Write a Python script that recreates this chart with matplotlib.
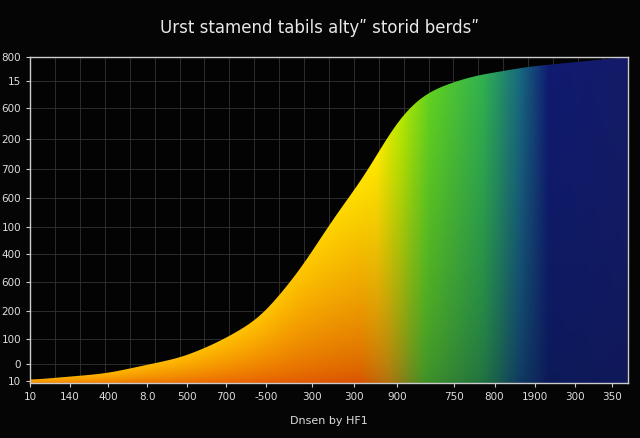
import numpy as np
import matplotlib
matplotlib.use("Agg")
import matplotlib.pyplot as plt
from matplotlib.colors import LinearSegmentedColormap

title = "Urst stamend tabils alty\u02ba storid berds\u02ba"
xlabel = "Dnsen by HF1"
x_tick_pos = [0.0, 0.066, 0.131, 0.196, 0.262, 0.327, 0.395, 0.472, 0.542, 0.614, 0.709, 0.777, 0.844, 0.911, 0.973]
x_tick_labels = ["10", "140", "400", "8.0", "500", "700", "-500", "300", "300", "900", "750", "800", "1900", "300", "350"]
y_tick_pos = [1.0, 0.926, 0.843, 0.748, 0.656, 0.567, 0.478, 0.396, 0.310, 0.221, 0.135, 0.058, 0.006]
y_tick_labels = ["800", "15", "600", "200", "700", "600", "100", "400", "600", "200", "100", "0", "10"]
curve_x = [0.0, 0.128, 0.256, 0.32, 0.385, 0.449, 0.513, 0.558, 0.609, 0.641, 0.673, 0.737, 0.833, 1.0]
curve_y = [0.01, 0.03, 0.08, 0.13, 0.20, 0.34, 0.52, 0.63, 0.79, 0.86, 0.90, 0.94, 0.97, 1.0]

fig = plt.figure(figsize=(6.4, 4.38), dpi=100, facecolor="#050505")
ax = fig.add_axes([0.047, 0.125, 0.934, 0.745])
ax.set_facecolor("#030303")

top_cols = [(0.0, "#ffb000"), (0.45, "#ffc800"), (0.58, "#ffe800"), (0.62, "#b8e800"),
            (0.67, "#60d020"), (0.76, "#30b050"), (0.82, "#186a80"), (0.87, "#101a70"), (1.0, "#141c68")]
bot_cols = [(0.0, "#f08800"), (0.35, "#e86000"), (0.55, "#d85000"), (0.60, "#b07010"),
            (0.66, "#409028"), (0.76, "#207040"), (0.82, "#103a60"), (0.87, "#0c1a58"), (1.0, "#101858")]
ctop = LinearSegmentedColormap.from_list("t", top_cols)
cbot = LinearSegmentedColormap.from_list("b", bot_cols)

nx, ny = 800, 400
fx = np.linspace(0, 1, nx)
fy = np.interp(fx, curve_x, curve_y)
for _ in range(3):
    k = np.ones(31) / 31
    fy = np.convolve(np.pad(fy, 15, mode="edge"), k, mode="valid")
fy[-1] = 1.0

ys = np.linspace(0, 1, ny)
T = ctop(fx)[:, :3]
B = cbot(fx)[:, :3]
w = np.clip(ys[:, None] / np.maximum(fy[None, :], 1e-3), 0, 1) ** 0.7
img = B[None, :, :] * (1 - w[..., None]) + T[None, :, :] * w[..., None]
im = ax.imshow(img, origin="lower", extent=[0, 1, 0, 1], aspect="auto", zorder=1,
               interpolation="bilinear")
poly = ax.fill_between(fx, 0, fy, color="none", zorder=0)
im.set_clip_path(poly.get_paths()[0], transform=ax.transData)

ax.set_xlim(0, 1)
ax.set_ylim(0, 1)
ax.set_xticks(x_tick_pos)
ax.set_xticklabels(x_tick_labels)
ax.set_xticks(np.linspace(0, 1, 25), minor=True)
ax.set_yticks(y_tick_pos)
ax.set_yticklabels(y_tick_labels)
ax.grid(False)
ax.grid(True, which="minor", axis="x", color="#333333", linewidth=0.6, zorder=0.5)
ax.grid(True, which="major", axis="y", color="#333333", linewidth=0.6, zorder=0.5)
ax.tick_params(which="minor", length=0)
ax.set_axisbelow(True)
for s in ax.spines.values():
    s.set_color("#cccccc")
    s.set_linewidth(1.0)
ax.tick_params(colors="#cccccc", labelsize=7.5, length=3, labelcolor="#dddddd")
ax.set_xlabel(xlabel, color="#dddddd", fontsize=8, labelpad=10)
fig.text(0.5, 0.935, title, color="#e8e8e8", fontsize=12, ha="center", va="center",
         fontweight="medium")
fig.savefig("out.png", dpi=100, facecolor=fig.get_facecolor())
